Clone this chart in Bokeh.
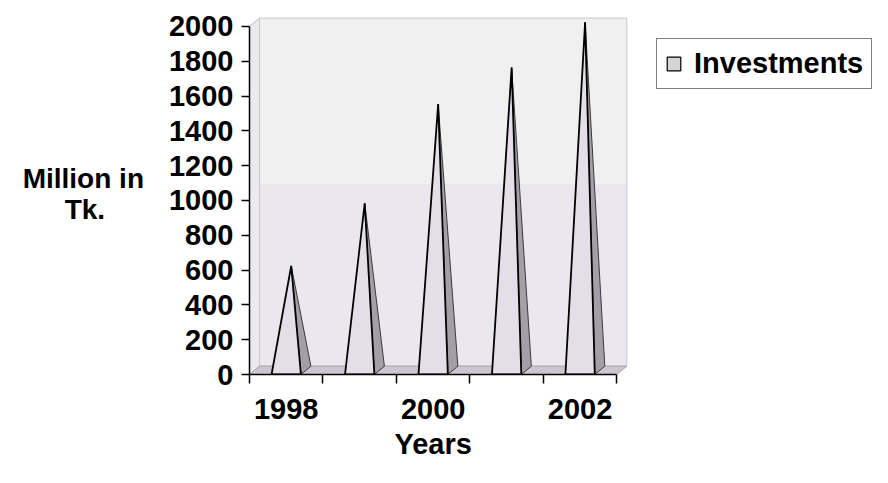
import math
from bokeh.plotting import figure
from bokeh.models import Range1d, FixedTicker, Legend, LegendItem, Title
from bokeh.embed import file_html
from bokeh.resources import INLINE

# ---- data ----
years = [1998, 1999, 2000, 2001, 2002]
investments = [600, 960, 1530, 1740, 2000]
y_ticks = [0, 200, 400, 600, 800, 1000, 1200, 1400, 1600, 1800, 2000]
x_tick_years = [1998, 2000, 2002]
series_name = "Investments"
y_title_lines = ["Million in", "Tk."]
x_title = "Years"

# ---- style / 3D geometry constants ----
HW = 0.2      # half width of pyramid base (category units)
DX = 0.136    # depth offset in x (category units)
DY = 48       # depth offset in y (value units)
TINT = 1050   # level where the wall tint changes
FONT = "Liberation Sans"
NBSP = "\u00a0"

x0 = years[0] - 0.5
x1 = years[-1] + 0.5
ymax = y_ticks[-1]

# frame spans to the right edge so the legend is not clipped
p = figure(width=872, height=467, output_backend="svg", toolbar_location=None,
           x_range=Range1d(x0, x0 + 8.48), y_range=Range1d(0, 2080),
           min_border_left=249, min_border_right=0, min_border_top=12, min_border_bottom=93)
p.background_fill_color = "white"
p.border_fill_color = "white"
p.outline_line_color = None
p.grid.visible = False

# walls and floor
p.patches(xs=[[x0, x0 + DX, x0 + DX, x0]],
          ys=[[0, DY, ymax + DY, ymax]],
          fill_color="#eceaee", line_color="#bcbcbc", line_width=1)
p.patches(xs=[[x0 + DX, x1 + DX, x1 + DX, x0 + DX]],
          ys=[[DY, DY, TINT + DY, TINT + DY]],
          fill_color="#ebe7ee", line_color=None)
p.patches(xs=[[x0 + DX, x1 + DX, x1 + DX, x0 + DX]],
          ys=[[TINT + DY, TINT + DY, ymax + DY, ymax + DY]],
          fill_color="#f0f0f0", line_color=None)
p.patches(xs=[[x0 + DX, x1 + DX, x1 + DX, x0 + DX]],
          ys=[[DY, DY, ymax + DY, ymax + DY]],
          fill_color=None, line_color="#c8c8c8", line_width=1)
p.patches(xs=[[x0, x1, x1 + DX, x0 + DX]],
          ys=[[0, 0, DY, DY]],
          fill_color="#cbc6cf", line_color="#a8a4ab", line_width=1)

# pyramids
front_xs, front_ys, side_xs, side_ys = [], [], [], []
for yr, v in zip(years, investments):
    apex_x = yr + DX / 2
    apex_y = v + DY / 2
    front_xs.append([yr - HW, yr + HW, apex_x])
    front_ys.append([0, 0, apex_y])
    side_xs.append([yr + HW, yr + HW + DX, apex_x])
    side_ys.append([0, DY, apex_y])
p.patches(xs=side_xs, ys=side_ys, fill_color="#a49ea8", line_color="#3a3a3a", line_width=1)
p.patches(xs=front_xs, ys=front_ys, fill_color="#e3dee7", line_color="black", line_width=1.8)

# legend swatch (no visible data)
sw = p.rect(x=[math.nan], y=[math.nan], width=1, height=1,
            fill_color="#d4d4d4", line_color="black", line_width=1.2)
legend = Legend(items=[LegendItem(label=series_name, renderers=[sw])],
                location=(407, 285), orientation="vertical",
                glyph_width=17, glyph_height=17, label_standoff=12,
                padding=8, margin=0, spacing=0,
                label_text_font=FONT, label_text_font_style="bold",
                label_text_font_size="29px", label_text_color="black",
                border_line_color="black", border_line_width=1,
                background_fill_color="white", background_fill_alpha=1)
p.add_layout(legend, "center")

# axes
ya = p.yaxis[0]
ya.ticker = FixedTicker(ticks=y_ticks)
ya.bounds = (0, ymax)
ya.major_tick_in = 0
ya.major_tick_out = 8
ya.minor_tick_in = 0
ya.minor_tick_out = 0
ya.major_label_standoff = 8
ya.axis_line_width = 1.5
ya.major_tick_line_width = 1.5
ya.axis_line_color = "black"
ya.major_tick_line_color = "black"
ya.major_label_text_font = FONT
ya.major_label_text_font_style = "bold"
ya.major_label_text_font_size = "29px"
ya.major_label_text_color = "black"
# second line padded with no-break spaces so it sits centred under the first
ya.axis_label = y_title_lines[0] + "\n" + y_title_lines[1] + NBSP * 5
ya.axis_label_orientation = "horizontal"
ya.axis_label_standoff = 22
ya.axis_label_text_font = FONT
ya.axis_label_text_font_style = "bold"
ya.axis_label_text_font_size = "28px"
ya.axis_label_text_line_height = 1.0
ya.axis_label_text_color = "black"

xa = p.xaxis[0]
xa.ticker = FixedTicker(ticks=x_tick_years,
                        minor_ticks=[y - 0.5 for y in years] + [years[-1] + 0.5])
xa.bounds = (x0, x1)
xa.major_tick_in = 0
xa.major_tick_out = 0
xa.minor_tick_in = 0
xa.minor_tick_out = 9
xa.minor_tick_line_width = 1.5
xa.minor_tick_line_color = "black"
xa.axis_line_width = 1.5
xa.axis_line_color = "black"
xa.major_label_standoff = 15
xa.major_label_text_font = FONT
xa.major_label_text_font_style = "bold"
xa.major_label_text_font_size = "29px"
xa.major_label_text_color = "black"

# x title placed under the centre of the category axis
p.add_layout(Title(text=x_title, align="left", offset=145, standoff=8,
                   text_font=FONT, text_font_style="bold", text_font_size="29px",
                   text_color="black"), "below")

open("out.html", "w").write(file_html(p, INLINE))
